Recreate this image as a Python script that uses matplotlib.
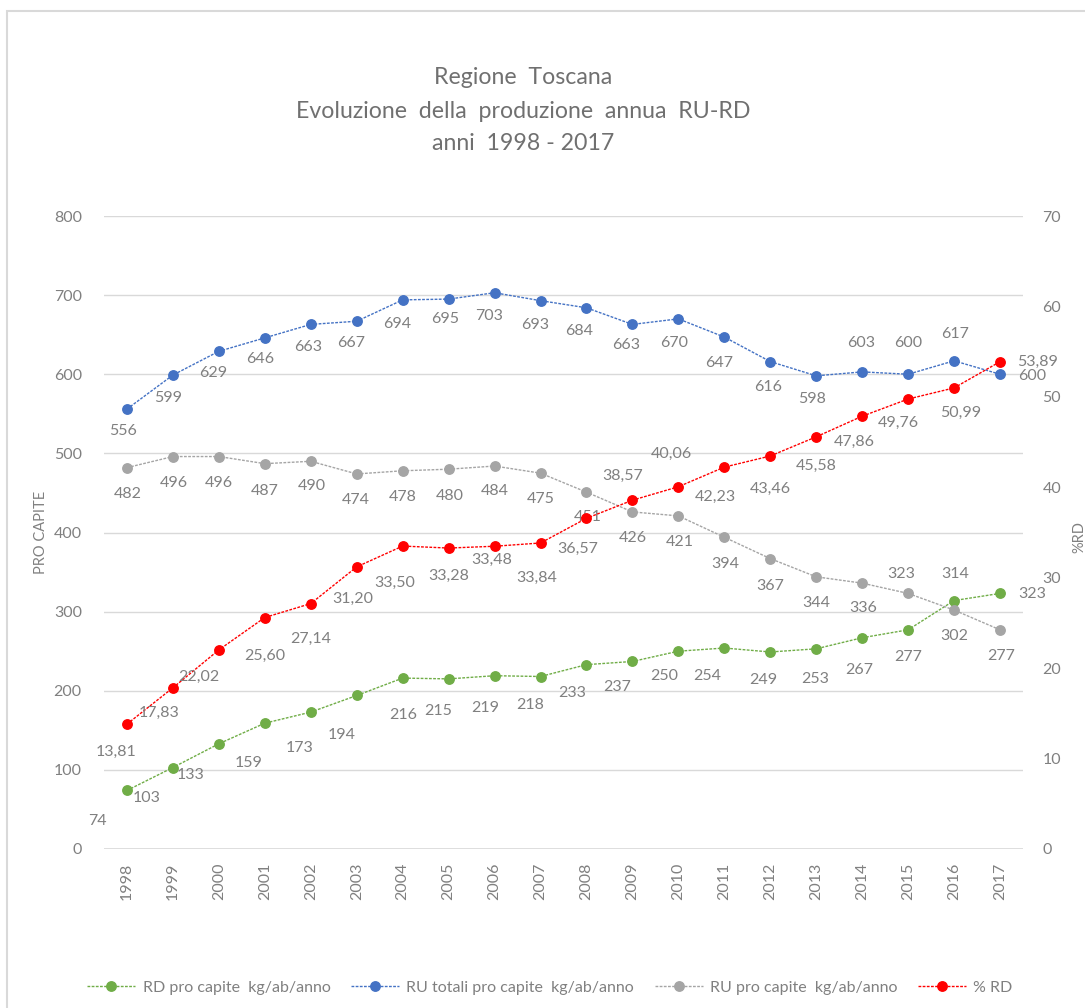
import matplotlib
matplotlib.use("Agg")
import matplotlib.pyplot as plt
from matplotlib.patches import Rectangle
from matplotlib.lines import Line2D

# ---------------- data ----------------
years = [str(y) for y in range(1998, 2018)]
rd_pro_capite = [74, 103, 133, 159, 173, 194, 216, 215, 219, 218,
                 233, 237, 250, 254, 249, 253, 267, 277, 314, 323]
ru_totali_pro_capite = [556, 599, 629, 646, 663, 667, 694, 695, 703, 693,
                        684, 663, 670, 647, 616, 598, 603, 600, 617, 600]
ru_pro_capite = [482, 496, 496, 487, 490, 474, 478, 480, 484, 475,
                 451, 426, 421, 394, 367, 344, 336, 323, 302, 277]
perc_rd = [13.81, 17.83, 22.02, 25.60, 27.14, 31.20, 33.50, 33.28, 33.48, 33.84,
           36.57, 38.57, 40.06, 42.23, 43.46, 45.58, 47.86, 49.76, 50.99, 53.89]

title_lines = ["Regione  Toscana", "Evoluzione  della  produzione  annua  RU-RD", "anni  1998 - 2017"]
legend_labels = ["RD pro capite  kg/ab/anno", "RU totali pro capite  kg/ab/anno",
                 "RU pro capite  kg/ab/anno", "% RD"]
left_ticks = [0, 100, 200, 300, 400, 500, 600, 700, 800]
right_ticks = [0, 10, 20, 30, 40, 50, 60, 70]

# ---------------- label placement (pixels: dx, dy downward) ----------------
green_off = [(-30, 31), (-26, 30), (-28, 31), (-16, 40), (-11, 36), (-15, 40), (1, 37), (-10, 32),
             (-9, 32), (-10, 28), (-14, 28), (-15, 26), (-14, 25), (-17, 28), (-7, 28), (-1, 30),
             (-3, 32), (0, 27), (1, -27), (32, 1)]
blue_off = [(-4, 22), (-5, 23), (-6, 22), (-5, 21), (-3, 23), (-6, 22), (-5, 24), (-4, 20),
            (-6, 23), (-5, 24), (-7, 23), (-6, 21), (-4, 24), (-5, 26), (-2, 25), (-4, 23),
            (-1, -29), (0, -31), (1, -27), (32, 2)]
gray_off = [(1, 26), (1, 26), (0, 26), (0, 27), (1, 25), (-1, 26), (0, 26), (1, 27), (0, 25),
            (0, 26), (1, 25), (0, 26), (1, 26), (1, 27), (0, 27), (0, 26), (1, 25), (-7, -19),
            (0, 26), (1, 26)]
red_off = [(-11, 28), (-14, 25), (-20, 27), (0, 38), (0, 35), (-4, 32), (-8, 37), (0, 28),
           (-3, 14), (-4, 35), (-9, 31), (-10, -24), (-7, -33), (-9, 30), (0, 33), (0, 29),
           (-8, 26), (-10, 24), (7, 25), (38, 0)]

# ---------------- style ----------------
plt.rcParams['font.family'] = ['Lato', 'DejaVu Sans']
GREEN = '#70AD47'
BLUE = '#4472C4'
GRAY = '#A5A5A5'
RED = '#FF0000'
TXT = '#808080'
GRID = '#D9D9D9'
FS = 11.5

W, H = 1085, 1008
fig = plt.figure(figsize=(W / 100, H / 100), dpi=100)
fig.patch.set_facecolor('white')

ax = fig.add_axes([104 / W, 1 - 849 / H, (1023 - 104) / W, (849 - 216) / H])
ax2 = ax.twinx()

x = list(range(len(years)))
ls = (0, (2, 1))
ms = 6.8
lw = 1.0

series = [
    (ax, rd_pro_capite, GREEN, green_off, lambda v: f"{v}"),
    (ax, ru_totali_pro_capite, BLUE, blue_off, lambda v: f"{v}"),
    (ax, ru_pro_capite, GRAY, gray_off, lambda v: f"{v}"),
    (ax2, perc_rd, RED, red_off, lambda v: f"{v:.2f}".replace('.', ',')),
]

for a, vals, col, offs, fmt in series:
    a.plot(x, vals, linestyle=ls, color=col, lw=lw, marker='o', markersize=ms,
           markerfacecolor=col, markeredgecolor=col, zorder=3)
    for xi, v, (dx, dy) in zip(x, vals, offs):
        a.annotate(fmt(v), (xi, v), xytext=(dx, -dy), textcoords='offset pixels',
                   ha='center', va='center', fontsize=FS, color=TXT, zorder=4)

ax.set_xlim(-0.5, len(years) - 0.5)
ax.set_ylim(0, 800)
ax2.set_ylim(0, 70)
ax.set_yticks(left_ticks)
ax2.set_yticks(right_ticks)
ax.set_xticks(x)
ax.set_xticklabels(years, rotation=90)

for a in (ax, ax2):
    for s in a.spines.values():
        s.set_visible(False)
    a.tick_params(length=0, labelsize=FS, labelcolor=TXT)
ax.tick_params(axis='y', pad=16)
ax2.tick_params(axis='y', pad=14)
ax.tick_params(axis='x', pad=10)

ax.grid(axis='y', color=GRID, lw=1.0)
ax.set_axisbelow(True)
ax.axhline(0, color=GRID, lw=1.2, zorder=1)

ax.set_ylabel('PRO CAPITE', fontsize=10.5, color=TXT)
ax.yaxis.set_label_coords((48 - 104) / (1023 - 104), (849 - 532) / (849 - 216))
ax2.set_ylabel('%RD', fontsize=10.5, color=TXT, rotation=90)
ax2.yaxis.set_label_coords((1072 - 104) / (1023 - 104), (849 - 537) / (849 - 216))

# title
for t, yy in zip(title_lines, [77, 111, 144]):
    fig.text(523 / W, 1 - yy / H, t, ha='center', va='center', fontsize=16.7, color='#707070')

# legend
handles = [Line2D([0], [0], linestyle=ls, color=c, lw=lw, marker='o', markersize=ms)
           for c in (GREEN, BLUE, GRAY, RED)]
fig.legend(handles, legend_labels, loc='center', bbox_to_anchor=(550 / W, 1 - 988 / H),
           ncol=4, frameon=False, fontsize=FS, labelcolor=TXT, handlelength=3.0,
           handletextpad=0.45, columnspacing=1.3)

# chart frame
fig.patches.append(Rectangle((7 / W, -0.5), 2, 0.5 + (1 - 11 / H), transform=fig.transFigure,
                             fill=False, ec='#D9D9D9', lw=1.5))

fig.savefig('out.png', dpi=100, facecolor='white')
